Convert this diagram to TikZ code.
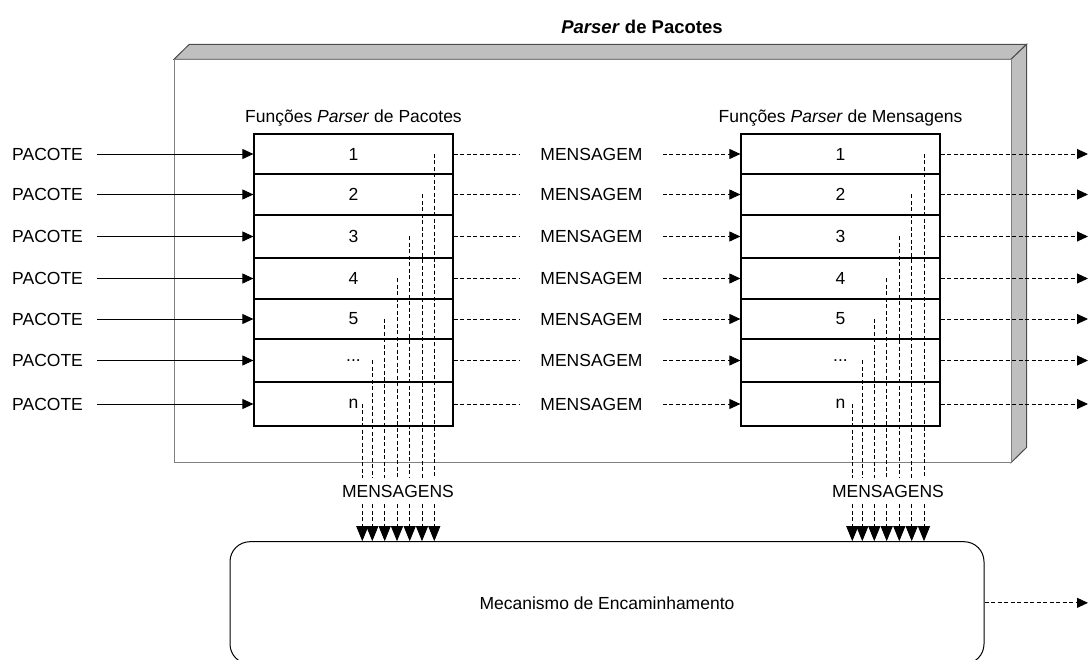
\documentclass[tikz,border=0pt]{standalone}
\usepackage{fontspec}
\setmainfont{Liberation Sans}
\usetikzlibrary{arrows.meta, positioning}

\tikzset{
  txt/.style={font=\fontsize{17.5}{21}\selectfont, inner sep=0pt},
  rowbox/.style={draw, line width=1.2pt, minimum width=199pt, txt},
  msgnode/.style={txt, inner xsep=20pt, inner ysep=3pt},
  busnode/.style={txt, inner ysep=7pt},
  inarrow/.style={line width=0.9pt, -{Triangle[length=11pt, width=10pt]}},
  dline/.style={line width=0.9pt, dash pattern=on 4pt off 2.5pt},
  darrow/.style={dline, -{Triangle[length=11pt, width=10pt]}},
  downarrow/.style={dline, -{Triangle[length=15pt, width=12pt]}}
}

\begin{document}
\begin{tikzpicture}[x=1pt, y=-1pt]
\useasboundingbox (0,0) rectangle (1088,660);

% caixa exterior (3D)
\filldraw[fill=black!25, draw=black!70, line width=1pt] (174,59.3) -- (189.3,44.3) -- (1026.7,44.3) -- (1011,59.3) -- cycle;
\filldraw[fill=black!25, draw=black!70, line width=1pt] (1011,59.3) -- (1026.7,44.3) -- (1026.7,447.3) -- (1011,462.7) -- cycle;
\filldraw[fill=white, draw=black!50, line width=1pt] (174,59.3) rectangle (1011,462.7);

% titulos
\node[txt, font=\fontsize{18.5}{22}\selectfont\bfseries] (title) at (642,27) {\textit{Parser} de Pacotes};
\node[txt] (hdL) at (353.5,118) {Funções \textit{Parser} de Pacotes};
\node[txt] (hdR) at (840.5,118) {Funções \textit{Parser} de Mensagens};

% barramentos e encaminhamento
\node[busnode] (busL) at (398,491) {MENSAGENS};
\node[busnode] (busR) at (888,491) {MENSAGENS};
\node[draw, line width=1pt, rounded corners=20pt, minimum width=754pt, minimum height=122.3pt, txt] (mec) at (607,602.85) {Mecanismo de Encaminhamento};
\coordinate (edge) at (1088,0);

% linhas das tabelas
\foreach \i/\yc/\h/\lab/\xl/\xr in {1/154/40/1/434.3/924, 2/194.5/41/2/422/911.7, 3/236.5/43/3/409.7/899.3, 4/278.5/41/4/397/886.7, 5/319/40/5/384.7/874.3, 6/360.5/43/{...}/372.3/862.3, 7/404/44/n/362.3/852.3} {
  \node[rowbox, minimum height=\h pt] (L\i) at (353.5,\yc) {\lab};
  \node[rowbox, minimum height=\h pt] (R\i) at (840.5,\yc) {\lab};
  \node[txt, anchor=west] (P\i) at (12,\yc) {PACOTE};
  \node[msgnode] (M\i) at (591.5,\yc) {MENSAGEM};
  \draw[inarrow] ([xshift=14pt]P\i.east) -- (L\i.west);
  \draw[dline] (L\i.east) -- (M\i.west);
  \draw[darrow] (M\i.east) -- (R\i.west);
  \draw[darrow] (R\i.east) -- (R\i.east -| edge);
  \coordinate (Lv\i) at (\xl,\yc);
  \coordinate (Rv\i) at (\xr,\yc);
  \draw[dline] (Lv\i) -- (Lv\i |- busL.north);
  \draw[dline] (Rv\i) -- (Rv\i |- busR.north);
  \draw[downarrow] (Lv\i |- busL.south) -- (Lv\i |- mec.north);
  \draw[downarrow] (Rv\i |- busR.south) -- (Rv\i |- mec.north);
}

\draw[darrow] (mec.east) -- (mec.east -| edge);
\end{tikzpicture}
\end{document}
